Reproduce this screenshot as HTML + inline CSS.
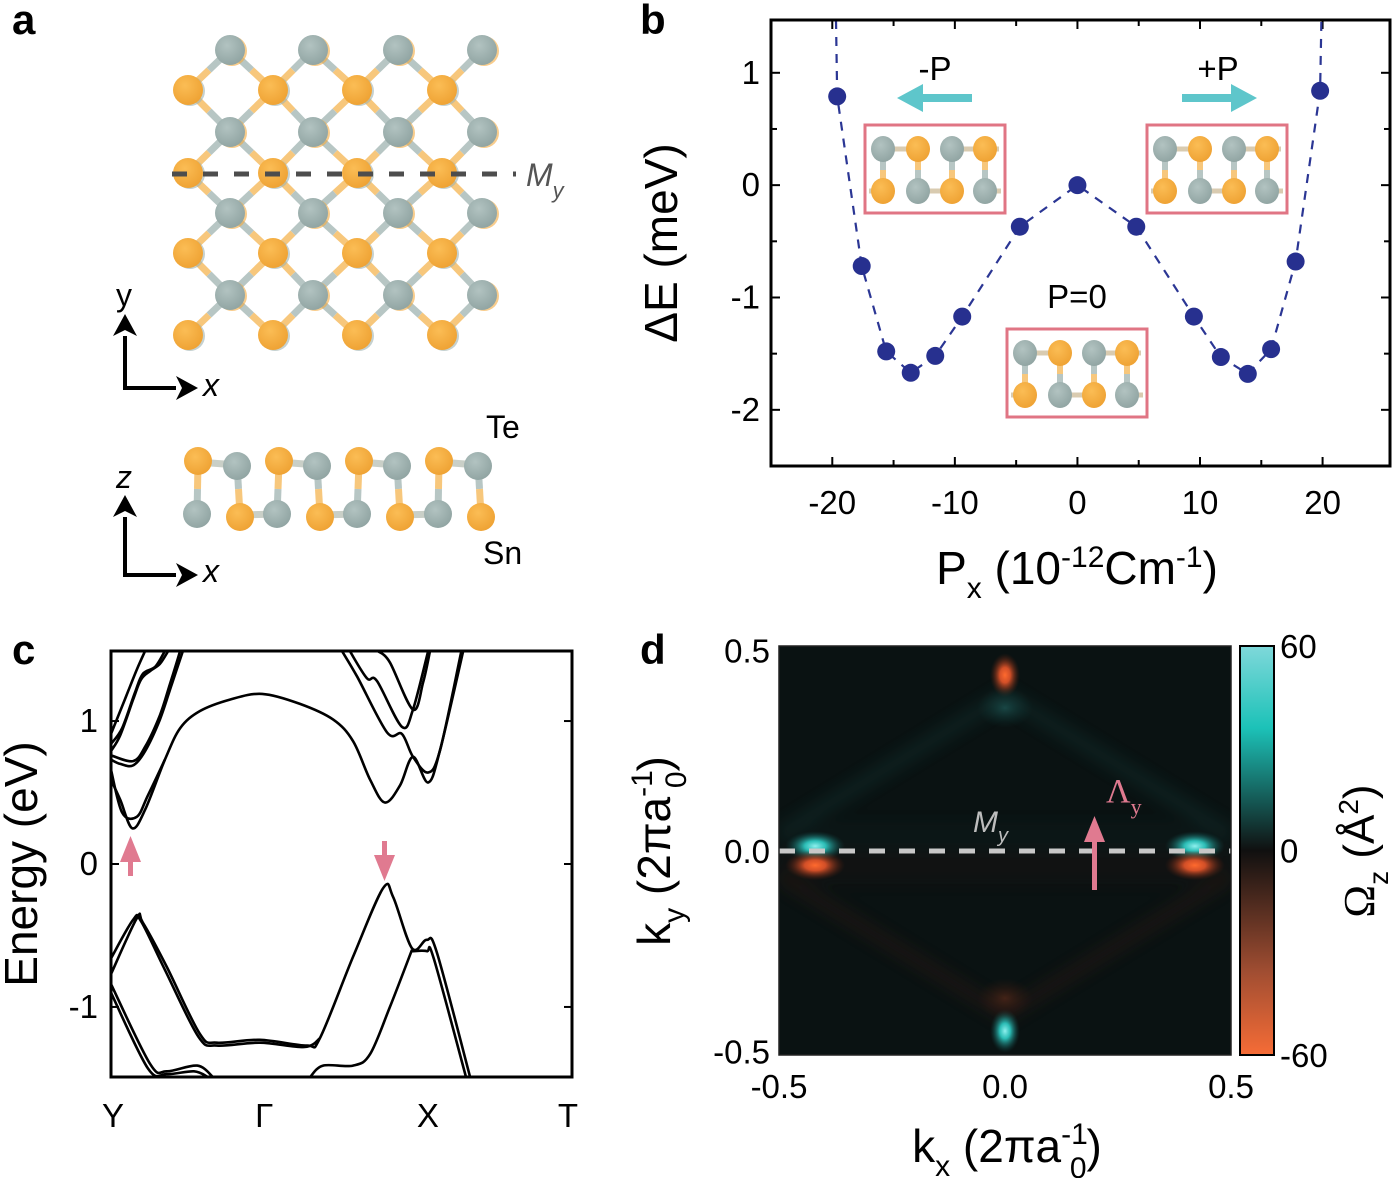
<!DOCTYPE html>
<html><head><meta charset="utf-8">
<style>
html,body{margin:0;padding:0;background:#fff;}
svg{display:block;font-family:"Liberation Sans",Arial,sans-serif;}
</style></head>
<body>
<svg id="fig" width="1395" height="1178" viewBox="0 0 1395 1178" xmlns="http://www.w3.org/2000/svg">
<defs>
  <radialGradient id="gOr" cx="40%" cy="35%" r="70%"><stop offset="0" stop-color="#fbbd55"/><stop offset="1" stop-color="#eea132"/></radialGradient>
  <radialGradient id="gGr" cx="40%" cy="35%" r="70%"><stop offset="0" stop-color="#b2c3c1"/><stop offset="1" stop-color="#8fa3a1"/></radialGradient>
  <radialGradient id="hotPos"><stop offset="0" stop-color="#8ff0ee"/><stop offset="0.35" stop-color="#2fd0c8" stop-opacity="0.9"/><stop offset="1" stop-color="#0f4a48" stop-opacity="0"/></radialGradient>
  <radialGradient id="hotNeg"><stop offset="0" stop-color="#ff6a2e"/><stop offset="0.35" stop-color="#e8562a" stop-opacity="0.9"/><stop offset="1" stop-color="#5a2010" stop-opacity="0"/></radialGradient>
  <radialGradient id="hotPosF"><stop offset="0" stop-color="#1f5a58" stop-opacity="0.7"/><stop offset="1" stop-color="#0f3a38" stop-opacity="0"/></radialGradient>
  <radialGradient id="hotNegF"><stop offset="0" stop-color="#5a2a1a" stop-opacity="0.7"/><stop offset="1" stop-color="#3a1a10" stop-opacity="0"/></radialGradient>
  <linearGradient id="cbar" x1="0" y1="0" x2="0" y2="1">
    <stop offset="0" stop-color="#7fd8da"/><stop offset="0.2" stop-color="#1cc2b8"/><stop offset="0.5" stop-color="#101010"/><stop offset="0.8" stop-color="#a24e32"/><stop offset="1" stop-color="#f66c36"/>
  </linearGradient>
  <filter id="blur4"><feGaussianBlur stdDeviation="7"/></filter>
</defs>

<text x="12" y="34" font-size="42" font-weight="bold">a</text>
<text x="640" y="34" font-size="42" font-weight="bold">b</text>
<text x="12" y="664" font-size="42" font-weight="bold">c</text>
<text x="640" y="664" font-size="42" font-weight="bold">d</text>

<g id="panelA"></g>
<g id="panelB"></g>
<g id="panelC"></g>
<g id="panelD"></g>
</svg>

<script>
// ---------------- Panel B data ----------------
const polarization = [-19.6,-17.6,-15.6,-13.6,-11.6,-9.4,-4.7,0,4.8,9.5,11.7,13.9,15.8,17.8,19.8];
const deltaE = [0.79,-0.72,-1.48,-1.67,-1.52,-1.17,-0.37,0,-0.37,-1.17,-1.53,-1.68,-1.46,-0.68,0.84];
const bXTicks = [-20,-10,0,10,20];
const bYTicks = [1,0,-1,-2];

// ---------------- Panel C data ----------------
const kLabels = ["Y","Γ","X","T"];
const kLabelPos = [0,0.328,0.683,1];
const cYTicks = [1,0,-1];
const bandC1 = [[0,0.59],[0.02,0.45],[0.046,0.25],[0.074,0.38],[0.117,0.73],[0.15,0.95],[0.193,1.07],[0.258,1.15],[0.328,1.19],[0.41,1.12],[0.482,1.01],[0.525,0.86],[0.562,0.59],[0.594,0.43],[0.627,0.55],[0.655,0.75],[0.688,0.57],[0.714,0.8],[0.764,1.49]];
const bandC1b = [[0,0.66],[0.024,0.36],[0.056,0.33],[0.08,0.48],[0.117,0.73]];
const bandC2 = [[0,0.73],[0.02,0.70],[0.048,0.69],[0.074,0.79],[0.106,1.01],[0.132,1.26],[0.156,1.49]];
const bandC2b = [[0,0.76],[0.048,0.72],[0.074,0.82],[0.106,1.04],[0.128,1.26],[0.15,1.49]];
const bandC3 = [[0,0.79],[0.02,0.9],[0.048,1.15],[0.065,1.29],[0.085,1.35],[0.106,1.4],[0.124,1.49]];
const bandC3b = [[0,0.84],[0.024,0.95],[0.052,1.2],[0.069,1.33],[0.096,1.38],[0.117,1.49]];
const bandC4 = [[0,0.91],[0.03,1.15],[0.056,1.36],[0.074,1.49]];
const bandR1 = [[0.501,1.49],[0.534,1.31],[0.599,0.92],[0.631,0.91],[0.655,0.75],[0.688,0.64],[0.714,0.8],[0.76,1.49]];
const bandR2 = [[0.518,1.49],[0.555,1.3],[0.577,1.28],[0.631,0.96],[0.655,1.08],[0.688,1.49]];
const bandR3 = [[0.579,1.49],[0.605,1.41],[0.655,1.08],[0.677,1.27],[0.692,1.49]];
const bandV1 = [[0,-0.77],[0.056,-0.38],[0.069,-0.41],[0.121,-0.72],[0.193,-1.19],[0.23,-1.25],[0.323,-1.23],[0.425,-1.27],[0.453,-1.22],[0.525,-0.65],[0.59,-0.17],[0.612,-0.23],[0.653,-0.59],[0.685,-0.53],[0.707,-0.62],[0.779,-1.49]];
const bandV1b = [[0,-0.66],[0.048,-0.39],[0.065,-0.4],[0.117,-0.74],[0.19,-1.21],[0.23,-1.27],[0.323,-1.25],[0.42,-1.28],[0.453,-1.22]];
const bandV1c = [[0.653,-0.61],[0.685,-0.61],[0.7,-0.66],[0.77,-1.49]];
const bandV2 = [[0,-0.84],[0.085,-1.4],[0.121,-1.45],[0.187,-1.41],[0.221,-1.49]];
const bandV2b = [[0,-0.9],[0.08,-1.43],[0.121,-1.47],[0.18,-1.45],[0.21,-1.49]];
const bandV3 = [[0.432,-1.49],[0.46,-1.41],[0.525,-1.41],[0.562,-1.33],[0.605,-1.0],[0.653,-0.6]];
const bands = [bandC1,bandC1b,bandC2,bandC2b,bandC3,bandC3b,bandC4,bandR1,bandR2,bandR3,bandV1,bandV1b,bandV1c,bandV2,bandV2b,bandV3];

// ---------------- Panel D data ----------------
const dTicks = [-0.5,0.0,0.5];
const cbarTicks = [60,0,-60];
const hotKx = [-0.42,-0.42,0.42,0.42,0,0,0,0];
const hotKy = [0.012,-0.035,0.012,-0.035,0.43,0.35,-0.44,-0.36];
const hotVal = [60,-60,60,-60,-55,12,55,-12];

const NS="http://www.w3.org/2000/svg";
function mk(tag, attrs, parent){const e=document.createElementNS(NS,tag);for(const k in attrs)e.setAttribute(k,attrs[k]);parent.appendChild(e);return e;}
function smooth(pts){
  let d="M"+pts[0][0]+","+pts[0][1];
  for(let i=0;i<pts.length-1;i++){
    const p0=pts[Math.max(0,i-1)],p1=pts[i],p2=pts[i+1],p3=pts[Math.min(pts.length-1,i+2)];
    const c1x=p1[0]+(p2[0]-p0[0])/6,c1y=p1[1]+(p2[1]-p0[1])/6;
    const c2x=p2[0]-(p3[0]-p1[0])/6,c2y=p2[1]-(p3[1]-p1[1])/6;
    d+=" C"+c1x.toFixed(1)+","+c1y.toFixed(1)+" "+c2x.toFixed(1)+","+c2y.toFixed(1)+" "+p2[0].toFixed(1)+","+p2[1].toFixed(1);
  }
  return d;
}

// ================= PANEL A =================
(function(){
  const g=document.getElementById('panelA');
  const atoms=[];
  const grayX=[230,313,398,482], orX=[188,273,357,442];
  const grayY=[50,132,213,295], orY=[90,173,253,335];
  grayY.forEach(y=>grayX.forEach(x=>atoms.push({x:x,y:y,t:'g'})));
  orY.forEach(y=>orX.forEach(x=>atoms.push({x:x,y:y,t:'o'})));
  const bonds=mk('g',{},g);
  
  
  atoms.filter(a=>a.t==='o').forEach(o=>{
    atoms.filter(a=>a.t==='g').forEach(gg=>{
      const dx=gg.x-o.x,dy=gg.y-o.y;
      if(Math.abs(Math.abs(dx)-42)<6&&Math.abs(Math.abs(dy)-41)<6){
        const mx=(o.x+gg.x)/2,my=(o.y+gg.y)/2;
        mk('line',{x1:o.x,y1:o.y,x2:mx,y2:my,stroke:"#f7c77c","stroke-width":7},bonds);
        mk('line',{x1:mx,y1:my,x2:gg.x,y2:gg.y,stroke:"#b7c6c4","stroke-width":7},bonds);
      }
    });
  });
  atoms.forEach(a=>{
    mk('circle',{cx:a.x+2,cy:a.y+1,r:15,fill:a.t==='o'?"#9fb3b1":"#f3aa40",opacity:0.6},g);
    const c=mk('circle',{cx:a.x,cy:a.y,r:15,fill:a.t==='o'?"url(#gOr)":"url(#gGr)"},g);
    
    
  });
  const dl=mk('line',{x1:172,y1:174,x2:516,y2:174,stroke:"#4d4d4d","stroke-width":5,"stroke-dasharray":"15,16"},g);
  
  
  const my=mk('text',{x:526,y:186,"font-size":32,"font-style":"italic",fill:"#555"},g);
  
  
  my.innerHTML='M<tspan font-size="22" dy="12">y</tspan>';

  function arrow(x1,y1,x2,y2,name){
    const a=mk('g',{},g);
    
    
    const ang=Math.atan2(y2-y1,x2-x1);
    const bx=x2-22*Math.cos(ang),by=y2-22*Math.sin(ang);
    mk('line',{x1:x1,y1:y1,x2:bx,y2:by,stroke:"#000","stroke-width":4},a);
    const px=-Math.sin(ang)*12,py=Math.cos(ang)*12;
    mk('polygon',{points:`${x2},${y2} ${bx+px},${by+py} ${bx+6*Math.cos(ang)},${by+6*Math.sin(ang)} ${bx-px},${by-py}`,fill:"#000"},a);
  }
  arrow(125,390,125,314,'y-direction-arrow');
  arrow(123,388,198,388,'x-direction-arrow-top');
  arrow(125,577,125,495,'z-direction-arrow');
  arrow(123,575,198,575,'x-direction-arrow-side');
  const lbls=[["y",116,306,"normal","axis-label-y"],["x",203,396,"italic","axis-label-x-top"],["z",116,488,"italic","axis-label-z"],["x",203,582,"italic","axis-label-x-side"]];
  lbls.forEach(l=>{const t=mk('text',{x:l[1],y:l[2],"font-size":32,"font-style":l[3]},g);t.textContent=l[0];
    
    });

  const topX=[198,237,279,317,359,397,439,478], botX=[197,240,277,320,357,400,438,481];
  const sb=mk('g',{},g);
  
  
  for(let i=0;i<8;i++){
    const tOr=i%2===0;
    mk('line',{x1:topX[i],y1:463,x2:(topX[i]+botX[i])/2,y2:489,stroke:tOr?"#f7c77c":"#b7c6c4","stroke-width":7},sb);
    mk('line',{x1:(topX[i]+botX[i])/2,y1:489,x2:botX[i],y2:515,stroke:tOr?"#b7c6c4":"#f7c77c","stroke-width":7},sb);
  }
  for(let i=0;i<8;i+=2){
    mk('line',{x1:topX[i],y1:462,x2:topX[i+1],y2:465,stroke:"#c9cfc7","stroke-width":7},sb);
  }
  for(let i=1;i<7;i+=2){
    mk('line',{x1:botX[i],y1:515,x2:botX[i+1],y2:514,stroke:"#c9cfc7","stroke-width":7},sb);
  }
  for(let i=0;i<8;i++){
    const tOr=i%2===0;
    const c1=mk('circle',{cx:topX[i],cy:tOr?461:466,r:14,fill:tOr?"url(#gOr)":"url(#gGr)"},g);
    
    
    const c2=mk('circle',{cx:botX[i],cy:tOr?514:517,r:14,fill:tOr?"url(#gGr)":"url(#gOr)"},g);
    
    
  }
  const te=mk('text',{x:486,y:438,"font-size":32},g); te.textContent="Te";
  
  
  const sn=mk('text',{x:483,y:564,"font-size":32},g); sn.textContent="Sn";
  
  
})();

function inset(parent,x0,y0,pattern,name){
  const g=mk('g',{},parent);
  
  
  mk('rect',{x:x0,y:y0,width:140,height:88,fill:"#fff",stroke:"#e07584","stroke-width":3},g);
  const xs=[x0+18,x0+53,x0+87,x0+120];
  for(let i=0;i<4;i++){
    const t=pattern[i];const b=t==='g'?'o':'g';
    mk('line',{x1:xs[i],y1:y0+24,x2:xs[i],y2:y0+45,stroke:t==='g'?"#b7c6c4":"#f7c77c","stroke-width":6},g);
    mk('line',{x1:xs[i],y1:y0+45,x2:xs[i],y2:y0+66,stroke:b==='g'?"#b7c6c4":"#f7c77c","stroke-width":6},g);
  }
  mk('line',{x1:xs[0],y1:y0+24,x2:xs[1],y2:y0+24,stroke:"#d9cbb0","stroke-width":5},g);
  mk('line',{x1:xs[2],y1:y0+24,x2:xs[3]+14,y2:y0+24,stroke:"#d9cbb0","stroke-width":5},g);
  mk('line',{x1:x0+4,y1:y0+66,x2:xs[0],y2:y0+66,stroke:"#d9cbb0","stroke-width":5},g);
  mk('line',{x1:xs[1],y1:y0+66,x2:xs[2],y2:y0+66,stroke:"#d9cbb0","stroke-width":5},g);
  mk('line',{x1:xs[3],y1:y0+66,x2:x0+136,y2:y0+66,stroke:"#d9cbb0","stroke-width":5},g);
  for(let i=0;i<4;i++){
    const t=pattern[i];const b=t==='g'?'o':'g';
    mk('ellipse',{cx:xs[i],cy:y0+24,rx:12,ry:13,fill:t==='g'?"url(#gGr)":"url(#gOr)"},g);
    mk('ellipse',{cx:xs[i],cy:y0+66,rx:12,ry:13,fill:b==='g'?"url(#gGr)":"url(#gOr)"},g);
  }
}

// ================= PANEL B =================
(function(){
  const g=document.getElementById('panelB');
  const L=771,R=1390,T=20,B=466;
  const xMin=-25,xMax=25.5,yMin=-2.5,yMax=1.47;
  const sx=v=>L+(v-xMin)/(xMax-xMin)*(R-L);
  const sy=v=>B-(v-yMin)/(yMax-yMin)*(B-T);
  const tk=mk('g',{stroke:"#000","stroke-width":2},g);
  
  
  for(let v=-20;v<=20;v+=5){mk('line',{x1:sx(v),y1:B,x2:sx(v),y2:B-(v%10===0?9:6)},tk);mk('line',{x1:sx(v),y1:T,x2:sx(v),y2:T+(v%10===0?9:6)},tk);}
  for(let v=-2.5;v<=1.0;v+=0.5){mk('line',{x1:L,y1:sy(v),x2:L+(Number.isInteger(v)?9:6),y2:sy(v)},tk);mk('line',{x1:R,y1:sy(v),x2:R-(Number.isInteger(v)?9:6),y2:sy(v)},tk);}
  bXTicks.forEach(v=>{const t=mk('text',{x:sx(v),y:514,"font-size":33,"text-anchor":"middle"},g);t.textContent=v;
    
    });
  bYTicks.forEach(v=>{const t=mk('text',{x:760,y:sy(v)+11,"font-size":33,"text-anchor":"end"},g);t.textContent=v;
    
    });
  const yt=mk('text',{transform:"translate(677,243) rotate(-90)","font-size":46,"text-anchor":"middle"},g);
  yt.textContent="ΔE (meV)";
  
  
  const xt=mk('text',{x:1077,y:584,"font-size":46,"text-anchor":"middle"},g);
  xt.innerHTML='P<tspan font-size="30" dy="14">x</tspan><tspan dy="-14"> (10</tspan><tspan font-size="30" dy="-17">-12</tspan><tspan dy="17">Cm</tspan><tspan font-size="30" dy="-17">-1</tspan><tspan dy="17">)</tspan>';
  
  
  const pts=polarization.map((p,i)=>[sx(p),sy(deltaE[i])]);
  const full=[[sx(polarization[0]-0.1),T]].concat(pts).concat([[sx(polarization[polarization.length-1]+0.1),T]]);
  let d="M"+full.map(p=>p[0].toFixed(1)+","+p[1].toFixed(1)).join(" L");
  const ln=mk('path',{d:d,fill:"none",stroke:"#2b3694","stroke-width":2.2,"stroke-dasharray":"9,8"},g);
  
  
  pts.forEach(p=>{const c=mk('circle',{cx:p[0],cy:p[1],r:9,fill:"#27308f"},g);
    
    });
  mk('rect',{x:L,y:T,width:R-L,height:B-T,fill:"none",stroke:"#000","stroke-width":3},g);
  inset(g,865,125,"gogo","inset-minus-p");
  inset(g,1147,125,"gogo","inset-plus-p");
  inset(g,1007,329,"gogo","inset-p-zero");
  function carrow(x1,x2,y,name){
    const a=mk('g',{},g);
    
    
    const dir=Math.sign(x2-x1);
    mk('line',{x1:x1,y1:y,x2:x2-dir*20,y2:y,stroke:"#5ec6cb","stroke-width":8},a);
    mk('polygon',{points:`${x2},${y} ${x2-dir*26},${y-14} ${x2-dir*26},${y+14}`,fill:"#5ec6cb"},a);
  }
  carrow(972,897,98,'minus-p-arrow');
  carrow(1182,1257,98,'plus-p-arrow');
  [["-P",935,80,'minus-p-label'],["+P",1218,80,'plus-p-label'],["P=0",1077,308,'p-zero-label']].forEach(l=>{
    const t=mk('text',{x:l[1],y:l[2],"font-size":33,"text-anchor":"middle"},g);t.textContent=l[0];
    
    
  });
})();

// ================= PANEL C =================
(function(){
  const g=document.getElementById('panelC');
  const L=111,R=572,T=651,B=1077;
  const eMin=-1.49,eMax=1.49;
  const sx=k=>L+k*(R-L);
  const sy=e=>B-(e-eMin)/(eMax-eMin)*(B-T);
  const clip=mk('clipPath',{id:"cclip"},g);
  mk('rect',{x:L,y:T,width:R-L,height:B-T},clip);
  const bg=mk('g',{"clip-path":"url(#cclip)"},g);
  bands.forEach(b=>{
    const p=mk('path',{d:smooth(b.map(q=>[sx(q[0]),sy(q[1])])),fill:"none",stroke:"#000","stroke-width":2.6},bg);
    
    
  });
  cYTicks.forEach(v=>{
    mk('line',{x1:L,y1:sy(v),x2:L+8,y2:sy(v),stroke:"#000","stroke-width":2},g);
    mk('line',{x1:R,y1:sy(v),x2:R-8,y2:sy(v),stroke:"#000","stroke-width":2},g);
    const t=mk('text',{x:98,y:sy(v)+11,"font-size":33,"text-anchor":"end"},g);t.textContent=v;
    
    
  });
  kLabels.forEach((l,i)=>{
    const t=mk('text',{x:sx(kLabelPos[i])+(i===3?-4:2),y:1127,"font-size":33,"text-anchor":"middle"},g);t.textContent=l;
    
    
  });
  mk('rect',{x:L,y:T,width:R-L,height:B-T,fill:"none",stroke:"#000","stroke-width":3},g);
  const yt=mk('text',{transform:"translate(37,864) rotate(-90)","font-size":46,"text-anchor":"middle"},g);
  yt.textContent="Energy (eV)";
  
  
  const up=mk('g',{fill:"#e07a90"},g);
  
  
  mk('rect',{x:128,y:855,width:5,height:21},up);
  mk('polygon',{points:"130.5,836 120,862 141,862"},up);
  const dn=mk('g',{fill:"#e07a90"},g);
  
  
  mk('rect',{x:382,y:841,width:5,height:18},dn);
  mk('polygon',{points:"384.5,881 374,855 395,855"},dn);
})();

// ================= PANEL D =================
(function(){
  const g=document.getElementById('panelD');
  const L=779,R=1231,T=646,B=1055;
  const sx=k=>L+(k+0.5)*(R-L);
  const sy=k=>851-k*((B-T)/1.0);
  const hm=mk('g',{},g);
  
  
  const cp=mk('clipPath',{id:"dclip"},g);
  mk('rect',{x:L,y:T,width:R-L,height:B-T},cp);
  hm.setAttribute('clip-path','url(#dclip)');
  mk('rect',{x:L,y:T,width:R-L,height:B-T,fill:"#0a1212"},hm);
  const fr=mk('g',{filter:"url(#blur4)",opacity:0.3},hm);
  mk('polyline',{points:`${sx(-0.5)},${sy(0.04)} ${sx(0)},${sy(0.38)} ${sx(0.5)},${sy(0.04)}`,fill:"none",stroke:"#17403d","stroke-width":16},fr);
  mk('polyline',{points:`${sx(-0.5)},${sy(-0.06)} ${sx(0)},${sy(-0.4)} ${sx(0.5)},${sy(-0.06)}`,fill:"none",stroke:"#3a1c12","stroke-width":16},fr);
  mk('rect',{x:L,y:sy(0.07),width:R-L,height:sy(0)-sy(0.07),fill:"#0f3331",opacity:0.5},fr);
  mk('rect',{x:L,y:sy(0),width:R-L,height:sy(-0.08)-sy(0),fill:"#3a1c10",opacity:0.5},fr);
  hotKx.forEach((kx,i)=>{
    const v=hotVal[i];const strong=Math.abs(v)>30;
    const fill=v>0?(strong?"url(#hotPos)":"url(#hotPosF)"):(strong?"url(#hotNeg)":"url(#hotNegF)");
    const isCenter=Math.abs(kx)<0.01;
    const e=mk('ellipse',{cx:sx(kx),cy:sy(hotKy[i]),rx:strong?(isCenter?15:30):28,ry:strong?(isCenter?22:15):20,fill:fill},hm);
    
    
  });
  const dl=mk('line',{x1:L,y1:sy(0),x2:R,y2:sy(0),stroke:"#c8c8c8","stroke-width":5,"stroke-dasharray":"16,14"},g);
  
  
  const mlab=mk('text',{x:973,y:832,"font-size":30,"font-style":"italic",fill:"#bdbdbd"},g);
  mlab.innerHTML='M<tspan font-size="20" dy="10">y</tspan>';
  
  
  const ar=mk('g',{fill:"#e07a90"},g);
  
  
  mk('rect',{x:1092,y:836,width:5,height:54},ar);
  mk('polygon',{points:"1094.5,816 1084,842 1105,842"},ar);
  const lam=mk('text',{x:1106,y:802,"font-size":34,fill:"#e07a90","font-family":"Liberation Serif, serif"},g);
  lam.innerHTML='Λ<tspan font-size="22" dy="12">y</tspan>';
  
  
  mk('rect',{x:L,y:T,width:R-L,height:B-T,fill:"none",stroke:"#222","stroke-width":1.5},g);
  dTicks.forEach(v=>{
    const t=mk('text',{x:sx(v),y:1098,"font-size":33,"text-anchor":"middle"},g);t.textContent=v.toFixed(1);
    
    
    const t2=mk('text',{x:770,y:sy(v*0.98)+12,"font-size":33,"text-anchor":"end"},g);t2.textContent=v.toFixed(1);
    
    
  });
  const xt=mk('text',{x:1007,y:1162,"font-size":46,"text-anchor":"middle"},g);
  xt.innerHTML='k<tspan font-size="30" dy="14">x</tspan><tspan dy="-14"> (2πa</tspan><tspan font-size="30" dy="-18">-1</tspan><tspan font-size="30" dx="-18" dy="34">0</tspan><tspan dy="-16">)</tspan>';
  
  
  const yt=mk('text',{transform:"translate(670,851) rotate(-90)","font-size":46,"text-anchor":"middle"},g);
  yt.innerHTML='k<tspan font-size="30" dy="14">y</tspan><tspan dy="-14"> (2πa</tspan><tspan font-size="30" dy="-18">-1</tspan><tspan font-size="30" dx="-18" dy="34">0</tspan><tspan dy="-16">)</tspan>';
  
  
  const cb=mk('rect',{x:1240,y:T,width:34,height:B-T,fill:"url(#cbar)",stroke:"#000","stroke-width":2},g);
  
  
  const cbY=v=>T+(60-v)/120*(B-T);
  cbarTicks.forEach(v=>{
    const t=mk('text',{x:1280,y:cbY(v)+12,"font-size":33},g);t.textContent=v;
    
    
  });
  const ct=mk('text',{transform:"translate(1374,851) rotate(-90)","font-size":44,"text-anchor":"middle","font-family":"Liberation Serif, serif"},g);
  ct.innerHTML='Ω<tspan font-size="28" dy="14" font-family="Liberation Sans, sans-serif">z</tspan><tspan dy="-14" font-family="Liberation Sans, sans-serif"> (Å</tspan><tspan font-size="28" dy="-16" font-family="Liberation Sans, sans-serif">2</tspan><tspan dy="16" font-family="Liberation Sans, sans-serif">)</tspan>';
  
  
})();
</script>
</body></html>
